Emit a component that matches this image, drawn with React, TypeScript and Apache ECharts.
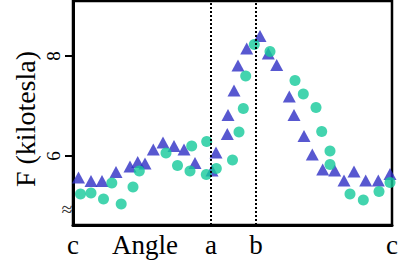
import React, { useEffect, useRef } from "react";
import * as echarts from "echarts";

// x: angle position (arbitrary units, c = 0 ... c = 319); y: F in kilotesla
const blueX = [5.5, 18, 29, 43, 57, 64.7, 72, 80.3, 90, 101, 111, 122, 139, 143, 154.3, 155, 161, 165, 173.7, 187, 195.3, 203.7, 216.3, 221, 231, 239.3, 249.7, 261.7, 271, 281, 292.7, 305.3, 317];
const blueY = [5.57, 5.5, 5.5, 5.68, 5.79, 5.88, 5.85, 6.13, 6.27, 6.2, 6.13, 5.86, 5.71, 6.07, 6.44, 6.82, 7.31, 7.81, 8.15, 8.4, 8.05, 7.82, 7.19, 6.82, 6.4, 6.03, 5.73, 5.71, 5.51, 5.69, 5.51, 5.51, 5.64];

const greenX = [7.5, 18, 30.5, 38.8, 48.2, 60, 66.3, 93, 104.5, 117, 118.7, 133.7, 133.3, 143.3, 159.5, 166, 170.3, 172.7, 181.3, 197, 222, 230.3, 243, 248.7, 257, 257, 277, 290.3, 306, 317];
const greenY = [5.24, 5.26, 5.14, 5.46, 5.04, 5.38, 5.7, 6.06, 5.81, 5.7, 6.2, 6.29, 5.63, 5.75, 5.92, 6.48, 6.95, 7.6, 8.23, 8.09, 7.51, 7.24, 6.97, 6.49, 6.1, 5.83, 5.24, 5.12, 5.29, 5.47];

const xTickValues = [0, 72, 138, 183, 319];
const xTickLabels = ["c", "Angle", "a", "b", "c"];
const markerLines = [138, 183];
const yTickValues = [6, 8];
const yTitle = "F (kilotesla)";

const SERIF = "Liberation Serif";

export default function App() {
  const ref = useRef<HTMLDivElement>(null);
  useEffect(() => {
    if (!ref.current) return;
    const chart = echarts.init(ref.current, undefined, { renderer: "svg" });
    const labelMap: Record<number, string> = {};
    xTickValues.forEach((v, i) => (labelMap[v] = xTickLabels[i]));
    chart.setOption({
      animation: false,
      backgroundColor: "#fff",
      grid: {
        left: 73,
        right: 17,
        top: 1,
        bottom: 45,
        show: true,
        borderColor: "#000",
        borderWidth: 2.5,
      },
      xAxis: {
        type: "value",
        min: 0,
        max: 319,
        splitLine: { show: false },
        axisLine: { show: true, lineStyle: { color: "#000", width: 3 } },
        axisTick: { show: false },
        axisLabel: {
          customValues: xTickValues,
          formatter: (v: number) => labelMap[v] ?? "",
          color: "#000",
          fontFamily: SERIF,
          fontSize: 27,
          margin: 6,
        },
      },
      yAxis: {
        type: "value",
        min: 4.62,
        max: 9.1,
        splitLine: { show: false },
        axisLine: { show: true, lineStyle: { color: "#000", width: 3 } },
        axisTick: {
          show: true,
          customValues: yTickValues,
          length: 8,
          lineStyle: { color: "#000", width: 2 },
        },
        axisLabel: {
          customValues: yTickValues,
          rotate: 90,
          color: "#000",
          fontFamily: SERIF,
          fontSize: 19,
          margin: 10,
        },
      },
      graphic: [
        {
          type: "text",
          x: 25,
          y: 119,
          rotation: Math.PI / 2,
          style: {
            text: yTitle,
            fill: "#000",
            font: "28px 'Liberation Serif'",
            textAlign: "center",
            textVerticalAlign: "middle",
          },
        },
        {
          type: "text",
          x: 67,
          y: 209,
          style: {
            text: "≈",
            fill: "#333",
            font: "20px 'Liberation Serif'",
            textAlign: "center",
            textVerticalAlign: "middle",
          },
        },
      ],
      series: [
        {
          type: "scatter",
          symbol: "triangle",
          symbolSize: [13, 12],
          itemStyle: { color: "#2e2ec4" },
          data: blueX.map((x, i) => [x, blueY[i]]),
          markLine: {
            silent: true,
            symbol: "none",
            label: { show: false },
            lineStyle: { color: "#000", type: [2, 2], width: 2 },
            data: markerLines.map((x) => ({ xAxis: x })),
          },
        },
        {
          type: "scatter",
          symbol: "circle",
          symbolSize: 11,
          itemStyle: { color: "#14c99a" },
          data: greenX.map((x, i) => [x, greenY[i]]),
        },
      ],
    });
    return () => chart.dispose();
  }, []);
  return <div ref={ref} style={{ width: 409, height: 270, position: "absolute", left: 0, top: 0 }} />;
}
